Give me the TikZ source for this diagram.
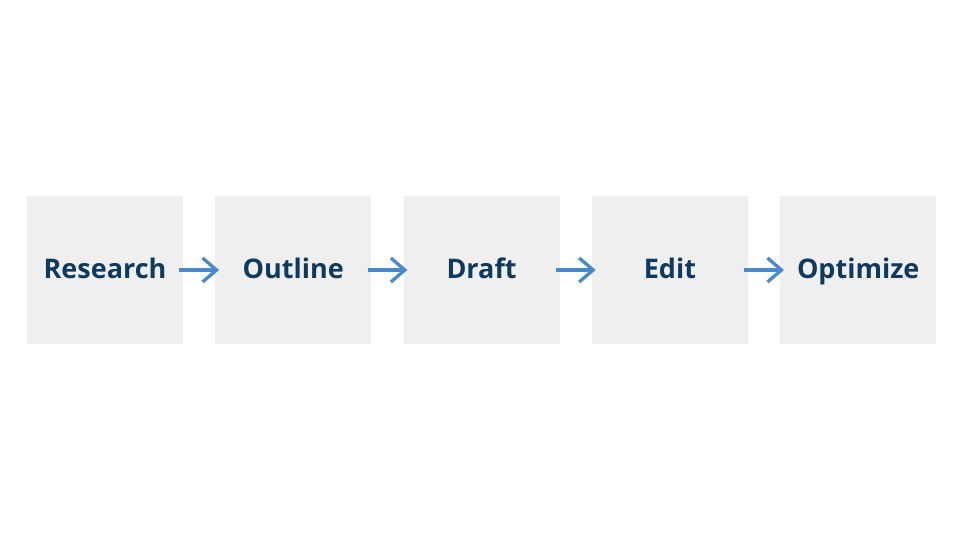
\documentclass[tikz,border=0pt]{standalone}
\usepackage{fontspec}
\setmainfont{Open Sans}[Ligatures=NoCommon]
\usetikzlibrary{positioning, arrows.meta}
\definecolor{stepgray}{HTML}{EFEFEF}
\definecolor{stepnavy}{HTML}{0F3A5F}
\definecolor{stepblue}{HTML}{4A88CC}

\begin{document}
\begin{tikzpicture}[x=1pt,y=1pt,node distance=188.3pt,on grid,
   stage/.style={fill=stepgray,minimum width=156pt,minimum height=148pt,
     inner sep=0pt,text=stepnavy,text height=24pt,text depth=6pt,
     font=\fontsize{27}{32}\selectfont\bfseries},
   flow/.style={-{Straight Barb[length=14pt,width=24pt,line width=3.3pt]},
     draw=stepblue,line width=3.3pt,shorten <=-4pt,shorten >=-4pt}]
   \useasboundingbox (0,0) rectangle (963,541);
   \node[stage] (research) at (105,271) {Research};
   \node[stage] (outline) [right=of research] {Outline};
   \node[stage] (draft) [right=of outline] {Draft};
   \node[stage] (edit) [right=of draft] {Edit};
   \node[stage] (optimize) [right=of edit] {Optimize};

   \path[flow]
   (research) edge (outline)
   (outline) edge (draft)
   (draft) edge (edit)
   (edit) edge (optimize);
\end{tikzpicture}
\end{document}
